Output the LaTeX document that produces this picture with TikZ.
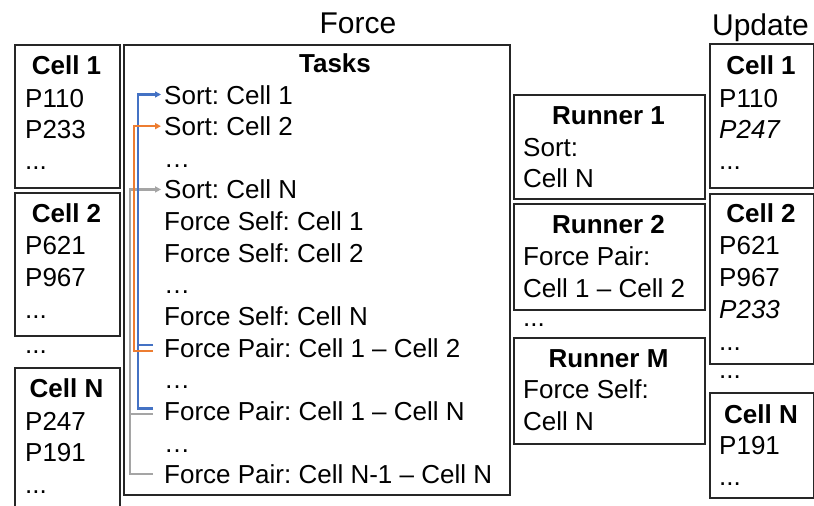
\documentclass[tikz,border=0pt]{standalone}
\usepackage{fontspec}
\setmainfont{Liberation Sans}
\usetikzlibrary{arrows.meta}
\definecolor{cblue}{HTML}{4472C4}
\definecolor{corange}{HTML}{ED7D31}
\definecolor{cgray}{HTML}{A5A5A5}
\newcommand\bodyfnt{\fontsize{26}{31}\selectfont\frenchspacing}
\newcommand\hdrfnt{\fontsize{30}{36}\selectfont}
\frenchspacing
\tikzset{
  box/.style={draw=black!85, line width=1.7pt, anchor=north west, inner sep=0pt},
  ln/.style={anchor=base west, inner sep=0pt, font=\bodyfnt},
  ttl/.style={anchor=base, inner sep=0pt, font=\bodyfnt\bfseries},
  hdr/.style={anchor=base, inner sep=0pt, font=\hdrfnt},
  task/.style={ln, text height=19pt, text depth=0pt},
  conn/.style={line width=2.2pt},
  tip/.style={-{Triangle[length=6pt,width=6pt]}}
}
\begin{document}
\begin{tikzpicture}[x=1pt,y=-1pt]
\useasboundingbox (0,0) rectangle (814,506);

% headers
\node[hdr] (hforce) at (358,34) {Force};
\node[hdr] (hupdate) at (760.5,35) {Update};

% left cells
\node[box, minimum width=105pt, minimum height=143pt] (lb1) at (14,44) {};
\node[ttl] (lb1t) at (66.5,74) {Cell 1};
\node[ln] (lb1a) at (25,107) {P110};
\node[ln] (lb1b) at (25,138) {P233};
\node[ln] (lb1c) at (25,169) {...};

\node[box, minimum width=105pt, minimum height=143pt] (lb2) at (14,192) {};
\node[ttl] (lb2t) at (66.5,222) {Cell 2};
\node[ln] (lb2a) at (25,254) {P621};
\node[ln] (lb2b) at (25,286) {P967};
\node[ln] (lb2c) at (25,318) {...};

\node[ln] (ldots) at (25,353) {...};

\node[box, minimum width=105pt, minimum height=150pt] (lbN) at (14,367) {};
\node[ttl] (lbNt) at (66.5,397) {Cell N};
\node[ln] (lbNa) at (25,430) {P247};
\node[ln] (lbNb) at (25,461) {P191};
\node[ln] (lbNc) at (25,493) {...};

% tasks
\node[box, minimum width=386pt, minimum height=450pt] (tasks) at (123,44) {};
\node[ttl] (taskst) at (335,72) {Tasks};
\node[task] (t1)  at (164,104.00) {Sort: Cell 1};
\node[task] (t2)  at (164,135.65) {Sort: Cell 2};
\node[task] (t3)  at (164,167.30) {…};
\node[task] (t4)  at (164,198.95) {Sort: Cell N};
\node[task] (t5)  at (164,230.60) {Force Self: Cell 1};
\node[task] (t6)  at (164,262.25) {Force Self: Cell 2};
\node[task] (t7)  at (164,293.90) {…};
\node[task] (t8)  at (164,325.55) {Force Self: Cell N};
\node[task] (t9)  at (164,357.20) {Force Pair: Cell 1 – Cell 2};
\node[task] (t10) at (164,388.85) {…};
\node[task] (t11) at (164,420.50) {Force Pair: Cell 1 – Cell N};
\node[task] (t12) at (164,452.15) {…};
\node[task] (t13) at (164,483.80) {Force Pair: Cell N-1 – Cell N};

% connector trunks
\coordinate (xb) at (138,0);
\coordinate (xo) at (134,0);
\coordinate (xg) at (130,0);
\coordinate (g1) at ([yshift=-3pt]t11.west);
\coordinate (b1) at ([yshift=2.5pt]t9.west);
\coordinate (b2) at ([yshift=2.5pt]t11.west);
\coordinate (o1) at ([yshift=-3pt]t9.west);

% gray
\draw[conn, cgray, tip] ([xshift=-11pt]t13.west) -- (t13.west -| xg) |- ([xshift=-3pt]t4.west);
\draw[conn, cgray] ([xshift=-11pt]g1) -- (g1 -| xg);
% blue
\draw[conn, cblue, tip] ([xshift=-11pt]b2) -- (b2 -| xb) |- ([xshift=-3pt]t1.west);
\draw[conn, cblue] ([xshift=-11pt]b1) -- (b1 -| xb);
% orange
\draw[conn, corange, tip] ([xshift=-11pt]o1) -- (o1 -| xo) |- ([xshift=-3pt]t2.west);

% runners
\node[box, minimum width=191pt, minimum height=104pt] (r1) at (513,94) {};
\node[ttl] (r1t) at (608.5,124) {Runner 1};
\node[ln] (r1a) at (523,156) {Sort:};
\node[ln] (r1b) at (523,187) {Cell N};

\node[box, minimum width=191pt, minimum height=106pt] (r2) at (513,203) {};
\node[ttl] (r2t) at (608.5,233) {Runner 2};
\node[ln] (r2a) at (523,265) {Force Pair:};
\node[ln] (r2b) at (523,297) {Cell 1 – Cell 2};

\node[ln] (rdots) at (523,326) {...};

\node[box, minimum width=191pt, minimum height=106pt] (rM) at (513,337) {};
\node[ttl] (rMt) at (608.5,367) {Runner M};
\node[ln] (rMa) at (523,398) {Force Self:};
\node[ln] (rMb) at (523,430) {Cell N};

% right cells
\node[box, minimum width=104pt, minimum height=144pt] (ub1) at (709,43) {};
\node[ttl] (ub1t) at (761,74) {Cell 1};
\node[ln] (ub1a) at (719,107) {P110};
\node[ln] (ub1b) at (719,138) {\itshape P247};
\node[ln] (ub1c) at (719,169) {...};

\node[box, minimum width=104pt, minimum height=170pt] (ub2) at (709,193) {};
\node[ttl] (ub2t) at (761,222) {Cell 2};
\node[ln] (ub2a) at (719,254) {P621};
\node[ln] (ub2b) at (719,286) {P967};
\node[ln] (ub2c) at (719,318) {\itshape P233};
\node[ln] (ub2d) at (719,350) {...};

\node[ln] (udots) at (719,378) {...};

\node[box, minimum width=104pt, minimum height=105pt] (ubN) at (709,392) {};
\node[ttl] (ubNt) at (761,423) {Cell N};
\node[ln] (ubNa) at (719,454) {P191};
\node[ln] (ubNb) at (719,485) {...};
\end{tikzpicture}
\end{document}
